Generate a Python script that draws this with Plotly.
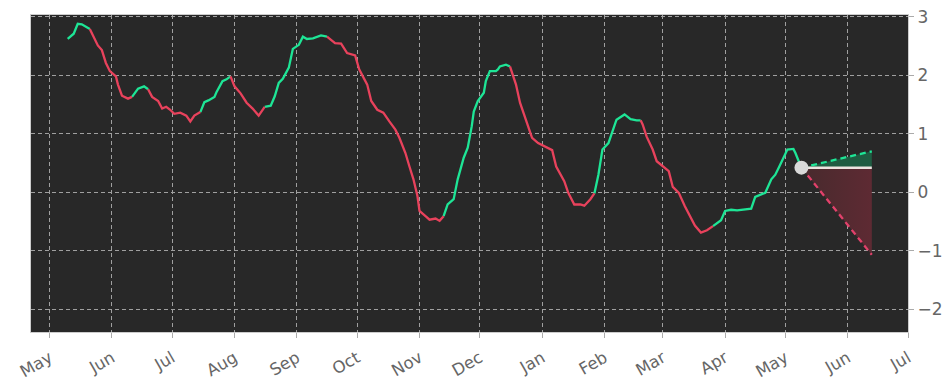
import plotly.graph_objects as go

# ---- data ----
dates = [
    "2023-05-10", "2023-05-13", "2023-05-15", "2023-05-17", "2023-05-21", "2023-05-23",
    "2023-05-25", "2023-05-27", "2023-05-29", "2023-05-31", "2023-06-03", "2023-06-04",
    "2023-06-06", "2023-06-09", "2023-06-11", "2023-06-14", "2023-06-17", "2023-06-19",
    "2023-06-21", "2023-06-24", "2023-06-26", "2023-06-28", "2023-06-30", "2023-07-02",
    "2023-07-05", "2023-07-08", "2023-07-10", "2023-07-12", "2023-07-15", "2023-07-17",
    "2023-07-19", "2023-07-22", "2023-07-23", "2023-07-26", "2023-07-28", "2023-07-30",
    "2023-08-01", "2023-08-04", "2023-08-07", "2023-08-10", "2023-08-13", "2023-08-16",
    "2023-08-19", "2023-08-21", "2023-08-23", "2023-08-25", "2023-08-28", "2023-08-30",
    "2023-09-02", "2023-09-04", "2023-09-06", "2023-09-09", "2023-09-11", "2023-09-13",
    "2023-09-16", "2023-09-20", "2023-09-23", "2023-09-26", "2023-09-30", "2023-10-02",
    "2023-10-06", "2023-10-08", "2023-10-11", "2023-10-14", "2023-10-17", "2023-10-20",
    "2023-10-22", "2023-10-25", "2023-10-27", "2023-10-29", "2023-10-31", "2023-11-01",
    "2023-11-04", "2023-11-06", "2023-11-09", "2023-11-11", "2023-11-13", "2023-11-15",
    "2023-11-18", "2023-11-20", "2023-11-23", "2023-11-25", "2023-11-27", "2023-11-28",
    "2023-11-30", "2023-12-03", "2023-12-04", "2023-12-06", "2023-12-09", "2023-12-10",
    "2023-12-11", "2023-12-14", "2023-12-16", "2023-12-19", "2023-12-21", "2023-12-23",
    "2023-12-25", "2023-12-27", "2023-12-30", "2024-01-02", "2024-01-06", "2024-01-08",
    "2024-01-12", "2024-01-14", "2024-01-17", "2024-01-20", "2024-01-22", "2024-01-25",
    "2024-01-27", "2024-01-29", "2024-01-31", "2024-02-03", "2024-02-05", "2024-02-07",
    "2024-02-11", "2024-02-14", "2024-02-17", "2024-02-19", "2024-02-20", "2024-02-22",
    "2024-02-25", "2024-02-27", "2024-03-01", "2024-03-04", "2024-03-06", "2024-03-09",
    "2024-03-12", "2024-03-15", "2024-03-17", "2024-03-20", "2024-03-23", "2024-03-26",
    "2024-03-30", "2024-04-01", "2024-04-04", "2024-04-07", "2024-04-10", "2024-04-14",
    "2024-04-16", "2024-04-19", "2024-04-21", "2024-04-24", "2024-04-26", "2024-04-28",
    "2024-04-30", "2024-05-02", "2024-05-05", "2024-05-06", "2024-05-08", "2024-05-09",
]
values = [
    2.62, 2.71, 2.88, 2.87, 2.79, 2.64,
    2.51, 2.43, 2.21, 2.07, 1.98, 1.84,
    1.65, 1.60, 1.63, 1.77, 1.81, 1.76,
    1.63, 1.56, 1.43, 1.46, 1.41, 1.34,
    1.36, 1.31, 1.21, 1.31, 1.37, 1.54,
    1.57, 1.63, 1.71, 1.90, 1.93, 1.98,
    1.81, 1.69, 1.53, 1.43, 1.31, 1.46,
    1.48, 1.64, 1.87, 1.94, 2.13, 2.45,
    2.52, 2.66, 2.62, 2.63, 2.66, 2.68,
    2.66, 2.55, 2.54, 2.38, 2.34, 2.10,
    1.84, 1.56, 1.41, 1.36, 1.21, 1.07,
    0.93, 0.67, 0.44, 0.22, -0.07, -0.32,
    -0.41, -0.47, -0.45, -0.49, -0.41, -0.21,
    -0.12, 0.22, 0.59, 0.76, 1.13, 1.38,
    1.56, 1.70, 1.90, 2.07, 2.07, 2.10,
    2.15, 2.18, 2.15, 1.84, 1.53, 1.33,
    1.13, 0.93, 0.84, 0.79, 0.72, 0.44,
    0.19, -0.01, -0.21, -0.21, -0.23, -0.12,
    -0.02, 0.30, 0.73, 0.84, 1.04, 1.24,
    1.33, 1.25, 1.23, 1.23, 1.16, 0.95,
    0.73, 0.53, 0.44, 0.36, 0.09, -0.01,
    -0.24, -0.44, -0.57, -0.69, -0.65, -0.58,
    -0.48, -0.32, -0.30, -0.31, -0.30, -0.28,
    -0.08, -0.04, -0.01, 0.22, 0.30, 0.44,
    0.59, 0.73, 0.74, 0.67, 0.50, 0.42,
]
# dates where the trend colour flips (first run is rising)
trend_switches = [
    "2023-05-21", "2023-06-11", "2023-06-19", "2023-07-15", "2023-07-30", "2023-08-16",
    "2023-09-16", "2023-11-13", "2023-12-16", "2024-01-27", "2024-02-19", "2024-03-26",
]
proj_dates = ["2024-05-09", "2024-06-13"]
proj_mid = [0.42, 0.42]
proj_high = [0.42, 0.70]
proj_low = [0.42, -1.07]
y_ticks = [-2, -1, 0, 1, 2, 3]
month_ticks = ["2023-05-01", "2023-06-01", "2023-07-01", "2023-08-01", "2023-09-01",
               "2023-10-01", "2023-11-01", "2023-12-01", "2024-01-01", "2024-02-01",
               "2024-03-01", "2024-04-01", "2024-05-01", "2024-06-01", "2024-07-01"]
month_labels = ["May", "Jun", "Jul", "Aug", "Sep", "Oct", "Nov", "Dec", "Jan", "Feb",
                "Mar", "Apr", "May", "Jun", "Jul"]

GREEN = "#1ee596"
RED = "#e8425c"

# assign trend to each point
up = True
trend = []
for d in dates:
    if d in trend_switches:
        up = not up
    trend.append(up)

seg_up = trend[:-1]
g_y, r_y = [], []
n = len(values)
for j in range(n):
    adj = []
    if j > 0:
        adj.append(seg_up[j - 1])
    if j < n - 1:
        adj.append(seg_up[j])
    g_y.append(values[j] if True in adj else None)
    r_y.append(values[j] if False in adj else None)

fig = go.Figure()

# projection fills
fig.add_trace(go.Scatter(x=proj_dates, y=proj_mid, mode="lines", line=dict(width=0),
                         hoverinfo="skip"))
fig.add_trace(go.Scatter(x=proj_dates, y=proj_high, mode="lines", line=dict(width=0),
                         fill="tonexty", fillcolor="rgba(31,92,66,1)", hoverinfo="skip"))
fig.add_trace(go.Scatter(x=proj_dates, y=proj_mid, mode="lines", line=dict(width=0),
                         hoverinfo="skip"))
fig.add_trace(go.Scatter(x=proj_dates, y=proj_low, mode="lines", line=dict(width=0),
                         fill="tonexty",
                         fillgradient=dict(type="horizontal",
                                           colorscale=[[0, "#472a2d"], [1, "#5e2a33"]]),
                         hoverinfo="skip"))

# main line
fig.add_trace(go.Scatter(x=dates, y=g_y, mode="lines", connectgaps=False,
                         line=dict(color=GREEN, width=2.3)))
fig.add_trace(go.Scatter(x=dates, y=r_y, mode="lines", connectgaps=False,
                         line=dict(color=RED, width=2.3)))

# projection lines
fig.add_trace(go.Scatter(x=proj_dates, y=proj_mid, mode="lines",
                         line=dict(color="#ece4e0", width=2.5)))
fig.add_trace(go.Scatter(x=proj_dates, y=proj_high, mode="lines",
                         line=dict(color=GREEN, width=2.3, dash="6px,4px")))
fig.add_trace(go.Scatter(x=proj_dates, y=proj_low, mode="lines",
                         line=dict(color="#e2416b", width=2.3, dash="6px,4px")))
fig.add_trace(go.Scatter(x=proj_dates[:1], y=proj_mid[:1], mode="markers",
                         marker=dict(color="#d9d9d9", size=14)))

fig.update_layout(
    width=952, height=385,
    margin=dict(l=31, r=44, t=15, b=53),
    paper_bgcolor="white",
    plot_bgcolor="#282828",
    showlegend=False,
    font=dict(family="DejaVu Sans", color="#666666"),
    xaxis=dict(
        range=["2023-04-21 18:00", "2024-07-01"],
        tickvals=month_ticks, ticktext=month_labels,
        tickangle=-30, tickfont=dict(size=16.5, color="#666666"),
        ticks="outside", ticklen=5, tickcolor="#aaaaaa", ticklabelstandoff=4,
        showgrid=True, gridcolor="#a0a0a0", griddash="4px,3px", gridwidth=1,
        showline=True, linecolor="#cccccc", linewidth=1, mirror=True,
        zeroline=False, automargin=False,
    ),
    yaxis=dict(
        side="right",
        range=[-2.39, 3.03],
        tickvals=y_ticks,
        tickfont=dict(size=17, color="#666666"),
        ticks="outside", ticklen=5, tickcolor="#aaaaaa",
        showgrid=True, gridcolor="#a0a0a0", griddash="4px,3px", gridwidth=1,
        showline=True, linecolor="#cccccc", linewidth=1, mirror=True,
        zeroline=False, automargin=False,
    ),
)

fig.write_html("out.html", config={"displayModeBar": False},
               post_script="document.body.style.margin='0';")
